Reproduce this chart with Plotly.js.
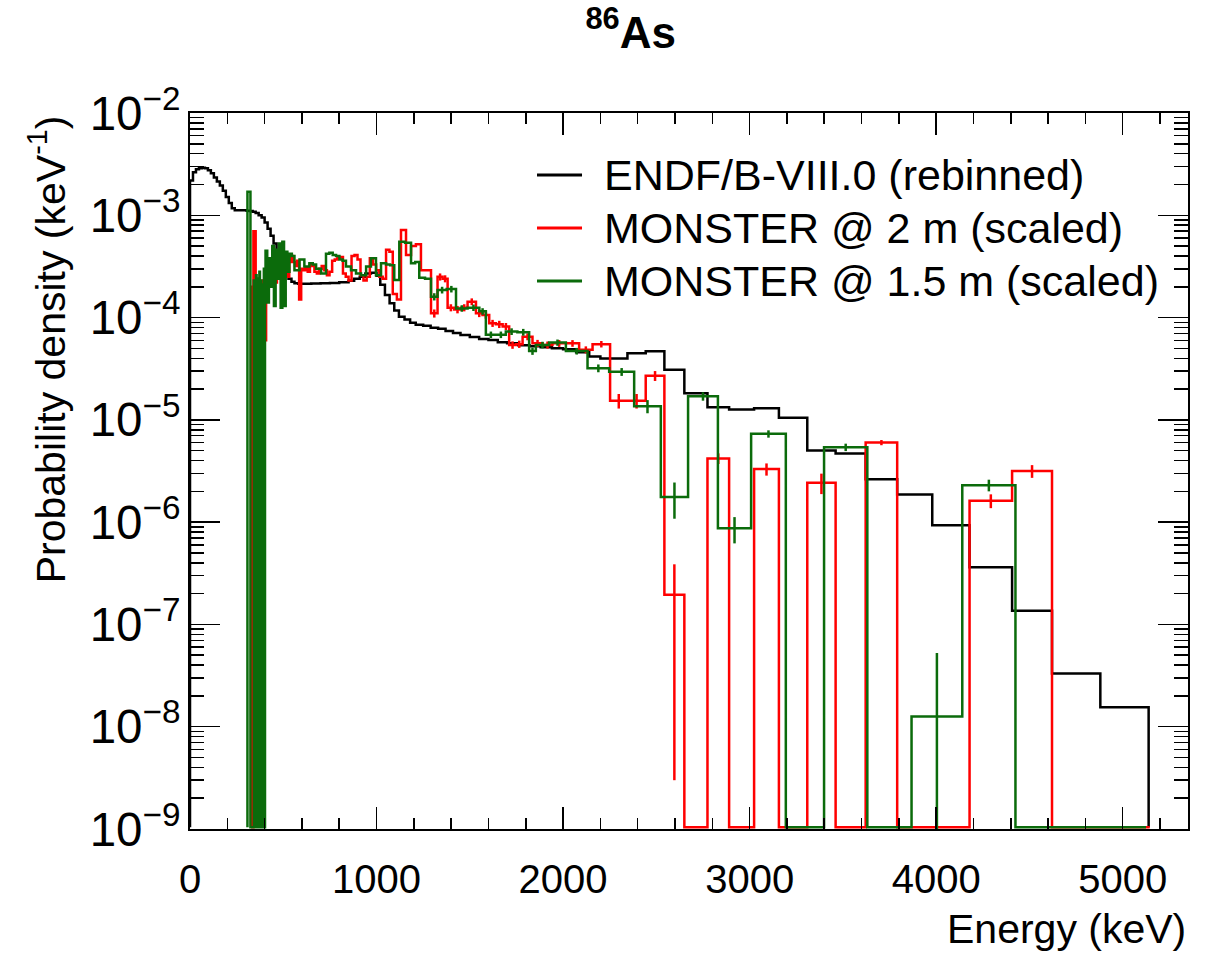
<!DOCTYPE html>
<html><head><meta charset="utf-8">
<script src="https://cdn.plot.ly/plotly-3.0.1.min.js"></script>
<style>html,body{margin:0;padding:0;background:#fff}#chart{width:1206px;height:955px}</style>
</head><body><div id="chart"></div>
<script>
// ---------- DATA (keV bin edges, probability density in keV^-1) ----------
const seriesNames = ["ENDF/B-VIII.0 (rebinned)", "MONSTER @ 2 m (scaled)", "MONSTER @ 1.5 m (scaled)"];

const endfEdges = [0,16,32,48,64,80,96,112,128,144,
  160,176,192,208,224,240,256,272,288,304,
  320,336,352,368,384,400,416,432,448,464,
  480,496,512,528,544,560,580,600,650,700,
  750,800,850,880,910,940,970,1000,1020,1045,
  1070,1095,1120,1150,1180,1210,1250,1290,1330,1370,
  1410,1450,1500,1550,1600,1650,1700,1760,1820,1880,
  1940,2000,2070,2140,2200,2252,2345,2443,2543,2650,
  2774,2890,3024,3157,3309,3461,3622,3791,3979,4179,
  4407,4621,4880,5139];
const endfDensity = [2.19e-3,2.63e-3,2.82e-3,2.88e-3,2.92e-3,2.88e-3,2.75e-3,2.57e-3,2.34e-3,2.14e-3,
  1.95e-3,1.74e-3,1.51e-3,1.32e-3,1.17e-3,1.12e-3,1.12e-3,1.12e-3,1.12e-3,1.11e-3,
  1.10e-3,1.08e-3,1.05e-3,1.00e-3,9.5e-4,8.5e-4,7.4e-4,6.3e-4,5.3e-4,4.4e-4,
  3.65e-4,3.1e-4,2.7e-4,2.4e-4,2.24e-4,2.16e-4,2.14e-4,2.14e-4,2.15e-4,2.16e-4,
  2.18e-4,2.21e-4,2.29e-4,2.40e-4,2.51e-4,2.69e-4,2.75e-4,2.57e-4,2.09e-4,1.66e-4,
  1.38e-4,1.17e-4,1.02e-4,9.55e-5,8.91e-5,8.51e-5,8.32e-5,7.94e-5,7.76e-5,7.41e-5,
  7.08e-5,6.76e-5,6.46e-5,6.17e-5,6.03e-5,5.75e-5,5.62e-5,5.37e-5,5.25e-5,5.13e-5,
  5.01e-5,4.90e-5,4.57e-5,4.17e-5,3.98e-5,3.98e-5,4.47e-5,4.68e-5,3.09e-5,1.82e-5,
  1.33e-5,1.26e-5,1.30e-5,1.05e-5,5.01e-6,4.68e-6,2.63e-6,1.86e-6,9.33e-7,3.63e-7,
  1.36e-7,3.31e-8,1.55e-8];

const m2Edges = [328,334,340,352,358,364,370,376,382,390,
  398,408,416,424,432,440,448,457,466,475,
  484,493,502,512,522,532,542,552,563,574,
  585,596,607,619,631,643,655,667,680,693,
  706,720,734,748,762,776,790,805,820,835,
  850,866,882,898,914,930,947,964,981,998,
  1015,1033,1051,1069,1087,1109,1131,1158,1185,1211,
  1238,1265,1292,1327,1354,1381,1416,1452,1488,1533,
  1568,1604,1640,1676,1711,1747,1783,1836,1890,1943,
  2015,2086,2158,2252,2345,2443,2543,2650,2774,2890,
  3024,3157,3309,3461,3622,3791,3979,4179,4407,4621,
  4880,5145];
const m2Density = [2.0e-4,0,7.0e-4,2.3e-4,1.8e-4,2.4e-4,1.9e-4,2.2e-4,1.7e-4,2.3e-4,
  6.0e-5,2.8e-4,3.6e-4,2.4e-4,3.8e-4,2.6e-4,3.3e-4,2.2e-4,3.9e-4,3.0e-4,
  3.4e-4,2.6e-4,3.6e-4,3.1e-4,2.5e-4,3.5e-4,4.0e-4,3.5e-4,3.2e-4,3.6e-4,
  1.5e-4,3.0e-4,2.9e-4,3.1e-4,2.8e-4,3.3e-4,3.2e-4,2.8e-4,2.7e-4,3.0e-4,
  3.2e-4,2.9e-4,2.6e-4,2.8e-4,3.6e-4,3.7e-4,3.8e-4,3.9e-4,2.7e-4,2.5e-4,
  2.3e-4,4.0e-4,4.1e-4,3.7e-4,2.6e-4,2.3e-4,2.5e-4,3.8e-4,3.3e-4,2.9e-4,
  2.5e-4,2.4e-4,4.6e-4,4.4e-4,1.7e-4,1.5e-4,7.2e-4,4.1e-4,5.0e-4,5.2e-4,
  2.9e-4,2.9e-4,1.1e-4,2.5e-4,2.4e-4,1.25e-4,1.2e-4,1.25e-4,1.43e-4,1.1e-4,
  1.06e-4,8.8e-5,8.6e-5,8.2e-5,5.4e-5,5.5e-5,6.5e-5,5.6e-5,5.4e-5,5.6e-5,
  5.6e-5,4.85e-5,5.5e-5,1.54e-5,1.54e-5,2.7e-5,1.95e-7,0,4.2e-6,0,
  3.3e-6,0,2.43e-6,0,6.0e-6,0,0,1.62e-6,3.16e-6,0,
  0];
const m2Error = [0,0,0,0,0,0,0,0,0,0,
  0,0,0,0,0,0,0,0,0,0,
  0,0,0,0,0,0,0,0,0,0,
  0,0,0,0,0,0,0,0,0,0,
  0,0,0,0,0,0,0,0,0,0,
  0,0,0,0,0,0,0,0,0,0,
  0,0,0,0,0,0,0,0,0,0,
  0,0,1.0e-5,2.0e-5,1.9e-5,1.0e-5,1.0e-5,1.0e-5,1.1e-5,9e-6,
  8.5e-6,7e-6,7e-6,6.5e-6,4.5e-6,4.5e-6,5e-6,4.5e-6,4.3e-6,4.3e-6,
  4.2e-6,3.8e-6,4.0e-6,2.5e-6,2.5e-6,3.0e-6,1.92e-7,0,5e-7,0,
  4.5e-7,0,5.5e-7,0,3.5e-7,0,0,2.5e-7,4.5e-7,0,
  0];

const m15Edges = [308,324,342,345,348,351,354,357,360,363,
  366,369,372,375,378,381,384,387,390,393,
  396,399,402,405,414,423,432,441,450,459,
  468,477,486,495,504,513,522,533,546,560,
  587,613,640,658,676,703,729,747,765,783,
  801,818,836,863,890,917,944,970,997,1024,
  1051,1073,1095,1122,1153,1185,1207,1229,1260,1292,
  1327,1376,1426,1488,1551,1586,1640,1693,1755,1818,
  1854,1925,2015,2131,2247,2381,2524,2670,2830,3008,
  3194,3399,3631,3868,4140,4425,4760,5125];
const m15Density = [1.7e-3,0,2.3e-4,0,2.2e-4,0,2.6e-4,0,1.9e-4,0,
  2.4e-4,0,2.8e-4,0,2.3e-4,0,2.0e-4,0,2.1e-4,0,
  3.0e-4,0,2.2e-4,4.5e-4,1.4e-4,3.8e-4,2.0e-4,5.0e-4,1.3e-4,4.6e-4,
  2.4e-4,5.3e-4,1.25e-4,5.5e-4,1.3e-4,4.4e-4,2.8e-4,4.2e-4,4.0e-4,2.9e-4,
  3.7e-4,3.15e-4,3.4e-4,3.3e-4,3.0e-4,2.7e-4,4.2e-4,4.3e-4,4.1e-4,4.0e-4,
  3.7e-4,3.6e-4,3.15e-4,2.9e-4,2.7e-4,2.6e-4,3.15e-4,3.8e-4,2.6e-4,3.4e-4,
  3.3e-4,3.25e-4,2.33e-4,5.5e-4,5.4e-4,3.4e-4,3.5e-4,2.45e-4,2.4e-4,1.6e-4,
  1.86e-4,1.9e-4,1.23e-4,1.25e-4,1.15e-4,6.8e-5,6.8e-5,7.3e-5,7.2e-5,4.7e-5,
  5.4e-5,5.7e-5,4.7e-5,3.2e-5,2.95e-5,1.36e-5,1.76e-6,1.7e-5,8.7e-7,7.3e-6,
  0,5.4e-6,0,1.26e-8,2.3e-6,0,0];
const m15Error = [0,0,0,0,0,0,0,0,0,0,
  0,0,0,0,0,0,0,0,0,0,
  0,0,0,0,0,0,0,0,0,0,
  0,0,0,0,0,0,0,0,0,0,
  0,0,0,0,0,0,0,0,0,0,
  0,0,0,0,0,0,0,0,0,0,
  0,0,0,0,0,0,0,0,0,1.3e-5,
  1.4e-5,1.4e-5,9e-6,9e-6,8.5e-6,5e-6,5e-6,5.5e-6,5.5e-6,3.8e-6,
  4e-6,4e-6,3.5e-6,2.8e-6,2.6e-6,2.0e-6,6.8e-7,1.6e-6,2.5e-7,6e-7,
  0,4.5e-7,0,4e-8,3e-7,0,0];

// ---------- DRAWING ----------
const FLOOR = 1.04e-9;   // empty bins are drawn on the lower frame, as ROOT does
const FONT = "Liberation Sans, Arial, Helvetica, sans-serif";
const colors = ["#000000", "#ff0000", "#0b6b0b"];

function stepPath(edges, vals){
  const x=[edges[0]], y=[FLOOR];
  for(let i=0;i<vals.length;i++){
    const v = vals[i]>0 ? vals[i] : FLOOR;
    x.push(edges[i], edges[i+1]); y.push(v, v);
  }
  x.push(edges[edges.length-1]); y.push(FLOOR);
  return {x, y};
}
function errPoints(edges, vals, errs){
  const x=[], y=[], up=[], dn=[];
  for(let i=0;i<vals.length;i++){
    if(errs[i]>0 && vals[i]>0){
      x.push((edges[i]+edges[i+1])/2); y.push(vals[i]);
      up.push(errs[i]); dn.push(Math.min(errs[i], vals[i]*0.999));
    }
  }
  return {x, y, up, dn};
}
function histTrace(edges, vals, color, name){
  const p = stepPath(edges, vals);
  return {type:"scatter", mode:"lines", x:p.x, y:p.y, name:name,
    line:{color:color, width:2.5, shape:"linear", simplify:false}, showlegend:false, hoverinfo:"skip"};
}
function errTrace(edges, vals, errs, color){
  const e = errPoints(edges, vals, errs);
  return {type:"scatter", mode:"markers", x:e.x, y:e.y, marker:{size:1, color:color, opacity:0},
    error_y:{type:"data", symmetric:false, array:e.up, arrayminus:e.dn, width:0, thickness:2.5, color:color},
    showlegend:false, hoverinfo:"skip"};
}

const traces = [
  histTrace(endfEdges, endfDensity, colors[0], seriesNames[0]),
  histTrace(m2Edges, m2Density, colors[1], seriesNames[1]),
  errTrace(m2Edges, m2Density, m2Error, colors[1]),
  histTrace(m15Edges, m15Density, colors[2], seriesNames[2]),
  errTrace(m15Edges, m15Density, m15Error, colors[2])
];

// legend drawn as shapes + text (ROOT style, long line samples)
const legendRows = [0.9134, 0.8394, 0.7654];
const shapes = legendRows.map((yy,i)=>({type:"line", xref:"paper", yref:"paper",
  x0:0.3477, x1:0.3928, y0:yy, y1:yy, line:{color:colors[i], width:3}}));
const annotations = legendRows.map((yy,i)=>({xref:"paper", yref:"paper", x:0.4128, y:yy,
  xanchor:"left", yanchor:"middle", showarrow:false, text:seriesNames[i],
  font:{family:FONT, size:43, color:"#000"}}));
annotations.push({xref:"paper", yref:"paper", x:1.0, y:-0.174, xanchor:"right", yanchor:"bottom",
  showarrow:false, text:"Energy (keV)", font:{family:FONT, size:41, color:"#000"}});
annotations.push({xref:"paper", yref:"paper", x:-0.143, y:1.0, xanchor:"center", yanchor:"top",
  textangle:-90, showarrow:false, text:"Probability density (keV<sup>-1</sup>)",
  font:{family:FONT, size:41, color:"#000"}});

const layout = {
  width:1206, height:955,
  margin:{l:190, r:18, t:113, b:126},
  paper_bgcolor:"#fff", plot_bgcolor:"#fff",
  title:{text:"<b><sup>86</sup>As</b>", xref:"container", yref:"container", x:0.523, y:0.966,
    xanchor:"center", yanchor:"middle",
    font:{family:"Liberation Sans Narrow, Arial Narrow, Liberation Sans, sans-serif", size:44, color:"#000"}},
  showlegend:false,
  hovermode:false,
  xaxis:{range:[0,5350], dtick:1000, tick0:0, ticks:"inside", ticklen:22, tickwidth:1.5, tickcolor:"#000",
    minor:{dtick:200, ticks:"inside", ticklen:11, tickwidth:1.5, tickcolor:"#000"},
    showline:true, linecolor:"#000", linewidth:2, mirror:"allticks", showgrid:false, zeroline:false,
    tickfont:{family:FONT, size:40, color:"#000"}, ticklabelstandoff:14},
  yaxis:{type:"log", range:[-9,-2], dtick:1, exponentformat:"power", ticks:"inside", ticklen:30,
    tickwidth:1.5, tickcolor:"#000",
    minor:{dtick:"D1", ticks:"inside", ticklen:14, tickwidth:1.5, tickcolor:"#000"},
    showline:true, linecolor:"#000", linewidth:2, mirror:"allticks", showgrid:false, zeroline:false,
    tickfont:{family:FONT, size:38, color:"#000"}, ticklabelstandoff:0},
  shapes:shapes,
  annotations:annotations
};

Plotly.newPlot("chart", traces, layout, {staticPlot:true, displayModeBar:false});
</script>
</body></html>
